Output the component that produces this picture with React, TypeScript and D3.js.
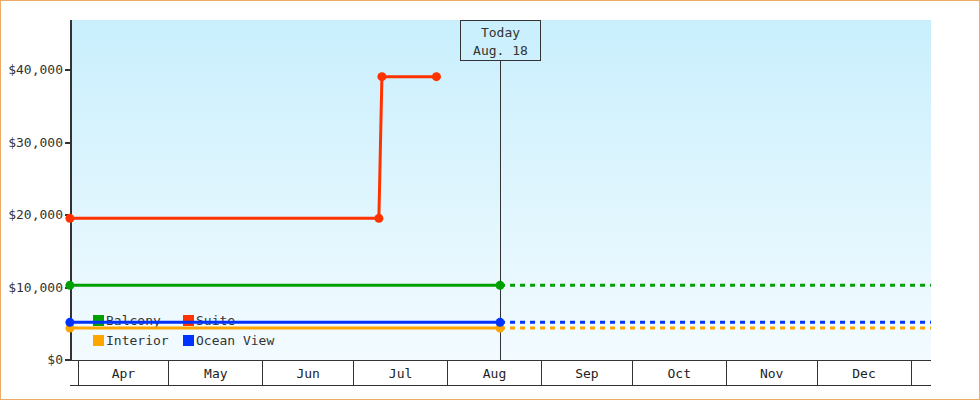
import React, { useEffect } from "react";
import * as d3 from "d3";

const seriesNames = ["Balcony", "Suite", "Interior", "Ocean View"];
const seriesColors = ["#00a000", "#ff3300", "#ffa500", "#0033ff"];

const balconyDates = ["2023-03-29", "2023-08-18"];
const balconyPrices = [10300, 10300];
const suiteDates = ["2023-03-29", "2023-07-09", "2023-07-10", "2023-07-28"];
const suitePrices = [19550, 19550, 39100, 39100];
const interiorDates = ["2023-03-29", "2023-08-18"];
const interiorPrices = [4400, 4400];
const oceanDates = ["2023-03-29", "2023-08-18"];
const oceanPrices = [5200, 5200];

const todayDate = "2023-08-18";
const todayLabel = ["Today", "Aug. 18"];
const firstMonth = "2023-04-01";
const lastMonth = "2024-01-01";
const axisEnd = "2024-01-08";
const yTicks = [0, 10000, 20000, 30000, 40000];
const projectedSeries = ["Balcony", "Interior", "Ocean View"];

const W = 980;
const H = 400;
const L = 71;
const R = 931;
const T = 20;
const B = 360;
const FONT = "'DejaVu Sans Mono', monospace";

const parse = d3.timeParse("%Y-%m-%d");

export default function App() {
  useEffect(() => {
    document.body.style.margin = "0";
  }, []);

  const x = d3
    .scaleTime()
    .domain([parse(firstMonth)!, parse(lastMonth)!])
    .range([79, 912]);
  const allPrices = [...balconyPrices, ...suitePrices, ...interiorPrices, ...oceanPrices];
  const y = d3.scaleLinear().domain([0, d3.max(allPrices)! * 1.2]).range([B, T]);

  const series = [
    { name: "Balcony", dates: balconyDates, prices: balconyPrices },
    { name: "Suite", dates: suiteDates, prices: suitePrices },
    { name: "Interior", dates: interiorDates, prices: interiorPrices },
    { name: "Ocean View", dates: oceanDates, prices: oceanPrices },
  ].map((s) => ({
    ...s,
    color: seriesColors[seriesNames.indexOf(s.name)],
    pts: s.dates.map((d, i) => ({ d: parse(d)!, v: s.prices[i] })),
  }));

  const line = d3
    .line<{ d: Date; v: number }>()
    .x((p) => x(p.d))
    .y((p) => y(p.v));

  const today = parse(todayDate)!;
  const tx = Math.round(x(today)) + 0.5;

  const monthTicks = d3.timeMonth.range(parse(firstMonth)!, d3.timeDay.offset(parse(lastMonth)!, 1));
  const fmtMonth = d3.timeFormat("%b");
  const fmtMoney = (v: number) => "$" + d3.format(",")(v);

  const drawOrder = ["Balcony", "Suite", "Interior", "Ocean View"];

  return (
    <svg width={W} height={H} style={{ display: "block" }} fontFamily={FONT}>
      <defs>
        <linearGradient id="bg" x1="0" y1="0" x2="0" y2="1">
          <stop offset="0" stopColor="#c9effd" />
          <stop offset="1" stopColor="#f3fbff" />
        </linearGradient>
        <clipPath id="plotClip">
          <rect x={60} y={0} width={R - 60} height={B + 10} />
        </clipPath>
      </defs>
      <rect x={0} y={0} width={W} height={H} fill="#ffffff" />
      <rect x={0.5} y={0.5} width={W - 1} height={H - 1} fill="none" stroke="#eeaa66" strokeWidth={1} />
      <rect x={L + 1} y={T} width={R - L - 1} height={B - T} fill="url(#bg)" />

      {/* y axis */}
      <line x1={L} x2={L} y1={T} y2={B} stroke="#333" strokeWidth={2} />
      {yTicks.map((t) => (
        <g key={t}>
          <line x1={L - 6} x2={L} y1={Math.round(y(t))} y2={Math.round(y(t))} stroke="#333" strokeWidth={2} />
          <text x={L - 8} y={Math.round(y(t)) + 4} textAnchor="end" fontSize={13} fill="#333">
            {fmtMoney(t)}
          </text>
        </g>
      ))}

      {/* x axis boxes */}
      <line x1={L} x2={R} y1={B + 0.5} y2={B + 0.5} stroke="#333" strokeWidth={1} />
      <line x1={70} x2={R} y1={385.5} y2={385.5} stroke="#333" strokeWidth={1} />
      {monthTicks.map((m, i) => {
        const xm = Math.floor(x(m)) - 0.5;
        const next = monthTicks[i + 1];
        return (
          <g key={i}>
            <line x1={xm} x2={xm} y1={B} y2={385} stroke="#333" strokeWidth={1} />
            {next && (
              <text x={(x(m) + x(next)) / 2 - 1} y={378} textAnchor="middle" fontSize={13} fill="#222">
                {fmtMonth(m)}
              </text>
            )}
          </g>
        );
      })}

      {/* legend */}
      {seriesNames.map((n, i) => {
        const col = i % 2;
        const row = Math.floor(i / 2);
        const lx = col === 0 ? 93 : 183;
        const ly = 315 + row * 20;
        return (
          <g key={n}>
            <rect x={lx} y={ly} width={11} height={11} fill={seriesColors[i]} />
            <text x={lx + 13} y={ly + 10} fontSize={13} fill="#333">
              {n}
            </text>
          </g>
        );
      })}

      {/* today marker */}
      <line x1={tx} x2={tx} y1={60} y2={B} stroke="#333" strokeWidth={1} />
      <rect x={460.5} y={20.5} width={80} height={40} fill="none" stroke="#333" strokeWidth={1} />
      <text x={tx} y={37} textAnchor="middle" fontSize={13} fill="#333">
        {todayLabel[0]}
      </text>
      <text x={tx} y={55} textAnchor="middle" fontSize={13} fill="#333">
        {todayLabel[1]}
      </text>

      {/* series */}
      <g clipPath="url(#plotClip)">
        {drawOrder.map((name) => {
          const s = series.find((q) => q.name === name)!;
          const last = s.pts[s.pts.length - 1];
          const proj = projectedSeries.includes(name)
            ? [last, { d: parse(axisEnd)!, v: last.v }]
            : null;
          return (
            <g key={name}>
              {proj && (
                <path d={line(proj)!} fill="none" stroke={s.color} strokeWidth={3} strokeDasharray="5,5" />
              )}
              <path d={line(s.pts)!} fill="none" stroke={s.color} strokeWidth={3} />
              {s.pts.map((p, i) => (
                <circle key={i} cx={x(p.d)} cy={y(p.v)} r={4.5} fill={s.color} />
              ))}
            </g>
          );
        })}
      </g>
    </svg>
  );
}
